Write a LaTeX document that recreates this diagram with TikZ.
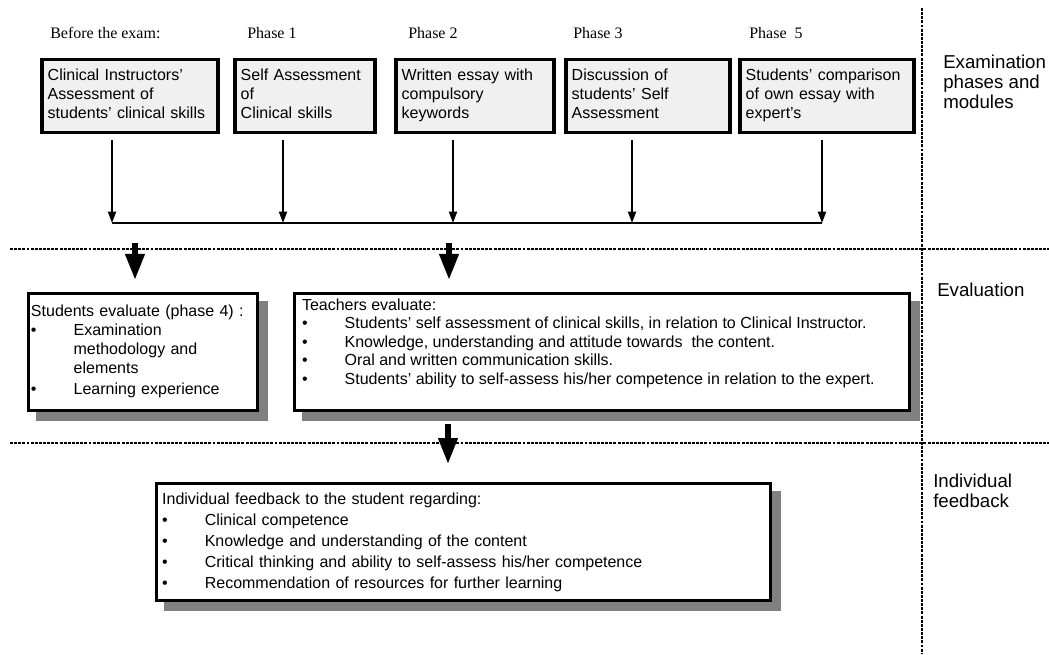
\documentclass[tikz,border=0pt]{standalone}
\usepackage{fontspec}
\setmainfont{Liberation Sans}
\newfontfamily\timesfont{Liberation Serif}
\usepackage{tikz}
\usetikzlibrary{calc,arrows.meta,shadows}

\definecolor{boxgray}{RGB}{240,240,240}
\definecolor{shadegray}{RGB}{128,128,128}
\newcommand{\bul}{\makebox[32pt][l]{\textbullet}}
\newcommand{\bulsp}{\hspace*{32pt}}

\begin{document}
\begin{tikzpicture}[x=0.75pt,y=0.75pt,yscale=-1,xscale=1,
  phase/.style={draw, line width=2.9pt, fill=boxgray, align=left, minimum height=54.8pt, inner xsep=4.3pt, inner ysep=0pt, execute at begin node=\strut, execute at end node=\strut, font=\fontsize{12pt}{14.2pt}\selectfont},
  evalbox/.style={draw, line width=2.25pt, fill=white, align=left, minimum height=87.75pt, inner ysep=0pt, execute at begin node=\strut, execute at end node=\strut, font=\fontsize{12pt}{14.2pt}\selectfont, drop shadow={shadow xshift=6.8pt, shadow yshift=-6.8pt, fill=shadegray, draw=shadegray, opacity=1}},
  phaselabel/.style={anchor=west, inner sep=0pt, font=\timesfont\fontsize{12pt}{14pt}\selectfont},
  sidelabel/.style={anchor=west, align=left, inner sep=0pt, font=\fontsize{14pt}{15pt}\selectfont},
  tolink/.style={line width=1.5pt, -{Triangle[width=6pt,length=8.5pt]}},
  bigdown/.style={line width=5pt, -{Triangle[width=13.5pt,length=20pt]}},
  sep/.style={line width=1.1pt, dash pattern=on 2.2pt off 0.9pt}
]
\useasboundingbox (0,0) rectangle (1049,654);

%separators
\draw[sep] (922,8) -- (922,654);
\draw[sep] (10,249) -- (1049,249);
\draw[sep] (10,443) -- (1049,443);

%phase labels
\node[phaselabel] (lbefore) at (50,33) {Before the exam:};
\node[phaselabel] (lp1) at (247,33) {Phase 1};
\node[phaselabel] (lp2) at (408,33) {Phase 2};
\node[phaselabel] (lp3) at (573,33) {Phase 3};
\node[phaselabel] (lp5) at (749,33) {Phase\ \ 5};

%modules
\node[phase, text width=123.4pt] (b1) at (130,96) {Clinical Instructors'\\Assessment of\\students' clinical skills};
\node[phase, text width=96.4pt] (b2) at (305,96) {Self Assessment\\of\\Clinical skills};
\node[phase, text width=109.9pt] (b3) at (475,96) {Written essay with\\compulsory\\keywords};
\node[phase, text width=114.4pt] (b4) at (648,96) {Discussion of\\students' Self\\Assessment};
\node[phase, text width=121.9pt] (b5) at (827,96) {Students' comparison\\of own essay with\\expert's};

\coordinate (j1) at (112,223);
\coordinate (j2) at (283,223);
\coordinate (j3) at (453,223);
\coordinate (j4) at (632,223);
\coordinate (j5) at (822,223);
\draw[tolink, shorten <=4pt] (j1 |- b1.south) -- (j1);
\draw[tolink, shorten <=4pt] (j2 |- b2.south) -- (j2);
\draw[tolink, shorten <=4pt] (j3 |- b3.south) -- (j3);
\draw[tolink, shorten <=4pt] (j4 |- b4.south) -- (j4);
\draw[tolink, shorten <=4pt] (j5 |- b5.south) -- (j5);
\draw[line width=1.5pt] (j1) -- (j5);

%evaluation
\node[evalbox, inner xsep=2pt, text width=168pt] (ev) at (143,352) {Students evaluate (phase 4) :\\
\bul Examination\\
\bulsp methodology and\\
\bulsp elements\\[2pt]
\bul Learning experience};
\node[evalbox, inner xsep=5.6pt, align=none, execute at begin node={}, execute at end node={}, font=\fontsize{12pt}{13.9pt}\selectfont] (te) at (602,352) {\parbox[c][82pt][t]{450pt}{\strut Teachers evaluate:\\
\bul Students' self assessment of clinical skills, in relation to Clinical Instructor.\\
\bul Knowledge, understanding and attitude towards\ \ the content.\\
\bul Oral and written communication skills.\\
\bul Students' ability to self-assess his/her competence in relation to the expert.}};

\coordinate (d1) at (135,243);
\coordinate (d2) at (449,243);
\draw[bigdown, shorten >=8.6pt] (d1) -- (d1 |- ev.north);
\draw[bigdown, shorten >=8.6pt] (d2) -- (d2 |- te.north);

%feedback
\node[evalbox, inner xsep=4pt, text width=452pt, font=\fontsize{12pt}{15.75pt}\selectfont] (fb) at (463.5,542) {Individual feedback to the student regarding:\\
\bul Clinical competence\\
\bul Knowledge and understanding of the content\\
\bul Critical thinking and ability to self-assess his/her competence\\
\bul Recommendation of resources for further learning};

\coordinate (d3) at (448,424);
\draw[bigdown, shorten >=13pt] (d3) -- (d3 |- fb.north);

%side labels
\node[sidelabel] (sphase) at (943,82) {Examination\\phases and\\modules};
\node[sidelabel] (seval) at (937,290) {Evaluation};
\node[sidelabel] (sfeed) at (933,491) {Individual\\feedback};
\end{tikzpicture}
\end{document}
